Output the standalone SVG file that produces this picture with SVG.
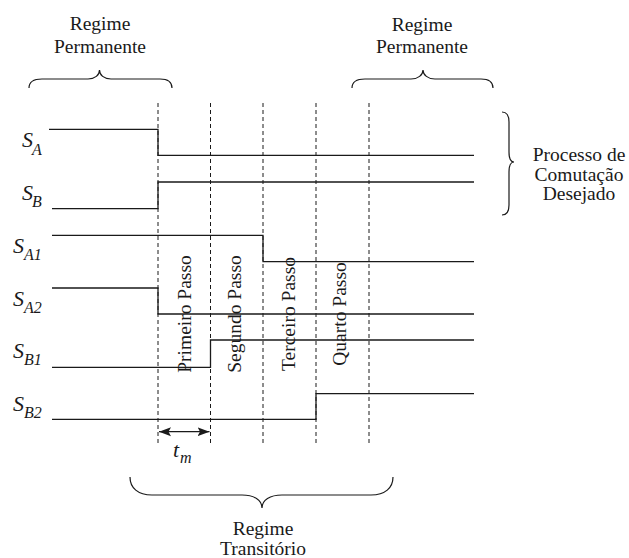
<svg xmlns="http://www.w3.org/2000/svg" width="629" height="558" viewBox="0 0 629 558" font-family="Liberation Serif, DejaVu Serif, serif">
<style>
.sig{fill:none;stroke:#1a1a1a;stroke-width:1.3}
.dash{fill:none;stroke:#1a1a1a;stroke-width:1;stroke-dasharray:4,3}
.br{fill:none;stroke:#1a1a1a;stroke-width:1.2}
.t{font-size:19.5px;text-anchor:middle;fill:#1a1a1a}
.s{font-style:italic;font-size:22px;fill:#1a1a1a}
.sub{font-style:italic;font-size:16px;fill:#1a1a1a}
</style>
<defs>
<marker id="ah" viewBox="0 0 12 10" refX="12" refY="5" markerWidth="12" markerHeight="10" markerUnits="userSpaceOnUse" orient="auto-start-reverse">
<path d="M0,0.5 L12,5 L0,9.5 L2.5,5 Z" fill="#1a1a1a"/>
</marker>
</defs>
<rect width="629" height="558" fill="#ffffff"/>
<g id="grid">
<line class="dash" x1="158" y1="103" x2="158" y2="443"/>
<line class="dash" x1="210.5" y1="103" x2="210.5" y2="443"/>
<line class="dash" x1="263" y1="103" x2="263" y2="443"/>
<line class="dash" x1="316" y1="103" x2="316" y2="443"/>
<line class="dash" x1="369" y1="103" x2="369" y2="443"/>
</g>
<g id="connectors">
<path class="sig" d="M49,129.3 H158 V155.3 H474"/>
<path class="sig" d="M52,208.7 H158 V182 H474"/>
<path class="sig" d="M52,235.3 H263 V261.7 H474"/>
<path class="sig" d="M52,288 H158 V314 H474"/>
<path class="sig" d="M52,367.3 H210.5 V340 H474"/>
<path class="sig" d="M52,419.3 H316 V393.7 H474"/>
<line class="sig" x1="159" y1="431.7" x2="209.5" y2="431.7" marker-start="url(#ah)" marker-end="url(#ah)"/>
</g>
<g id="labels" font-family="Liberation Serif">
<text class="s" x="22" y="147">S</text><text class="sub" x="32" y="155">A</text>
<text class="s" x="22" y="200">S</text><text class="sub" x="32" y="207">B</text>
<text class="s" x="13" y="253">S</text><text class="sub" x="24" y="260">A1</text>
<text class="s" x="13" y="306">S</text><text class="sub" x="24" y="313">A2</text>
<text class="s" x="13" y="358">S</text><text class="sub" x="24" y="365">B1</text>
<text class="s" x="13" y="411">S</text><text class="sub" x="24" y="418">B2</text>
<text class="s" x="173" y="457">t</text><text class="sub" x="180" y="463">m</text>
</g>
<g id="steps" font-family="Liberation Serif">
<text class="t" transform="translate(190.5,314) rotate(-90)">Primeiro Passo</text>
<text class="t" transform="translate(241,314) rotate(-90)">Segundo Passo</text>
<text class="t" transform="translate(295,314) rotate(-90)">Terceiro Passo</text>
<text class="t" transform="translate(346,314) rotate(-90)">Quarto Passo</text>
</g>
<g id="regime-left" font-family="Liberation Serif">
<text class="t" x="100" y="30">Regime</text>
<text class="t" x="100" y="53">Permanente</text>
<path class="br" d="M29,88 C29,82 33,79 42,79 L88,79 C95,79 99.5,75 99.5,70 C99.5,75 104,79 111,79 L160,79 C168,79 172,82 172,88"/>
</g>
<g id="regime-right" font-family="Liberation Serif">
<text class="t" x="422" y="31">Regime</text>
<text class="t" x="422" y="53">Permanente</text>
<path class="br" d="M352,88 C352,82 356,79 365,79 L411,79 C418,79 423,75 423,70 C423,75 428,79 435,79 L481,79 C489,79 493,82 493,88"/>
</g>
<g id="processo" font-family="Liberation Serif">
<path class="br" d="M502,112 C507,112 509,115 509,122 L509,152 C509,158 511,162 514,162 C511,162 509,166 509,172 L509,205 C509,212 507,215 502,215"/>
<text class="t" x="579" y="161">Processo de</text>
<text class="t" x="579" y="181">Comutação</text>
<text class="t" x="579" y="200">Desejado</text>
</g>
<g id="regime-transitorio" font-family="Liberation Serif">
<path class="br" d="M130,477 C130,488 138,495 152,495 L242,495 C254,495 262,500 262,508 C262,500 270,495 282,495 L371,495 C385,495 393,488 393,477"/>
<text class="t" x="263" y="535">Regime</text>
<text class="t" x="263" y="555">Transitório</text>
</g>
</svg>
